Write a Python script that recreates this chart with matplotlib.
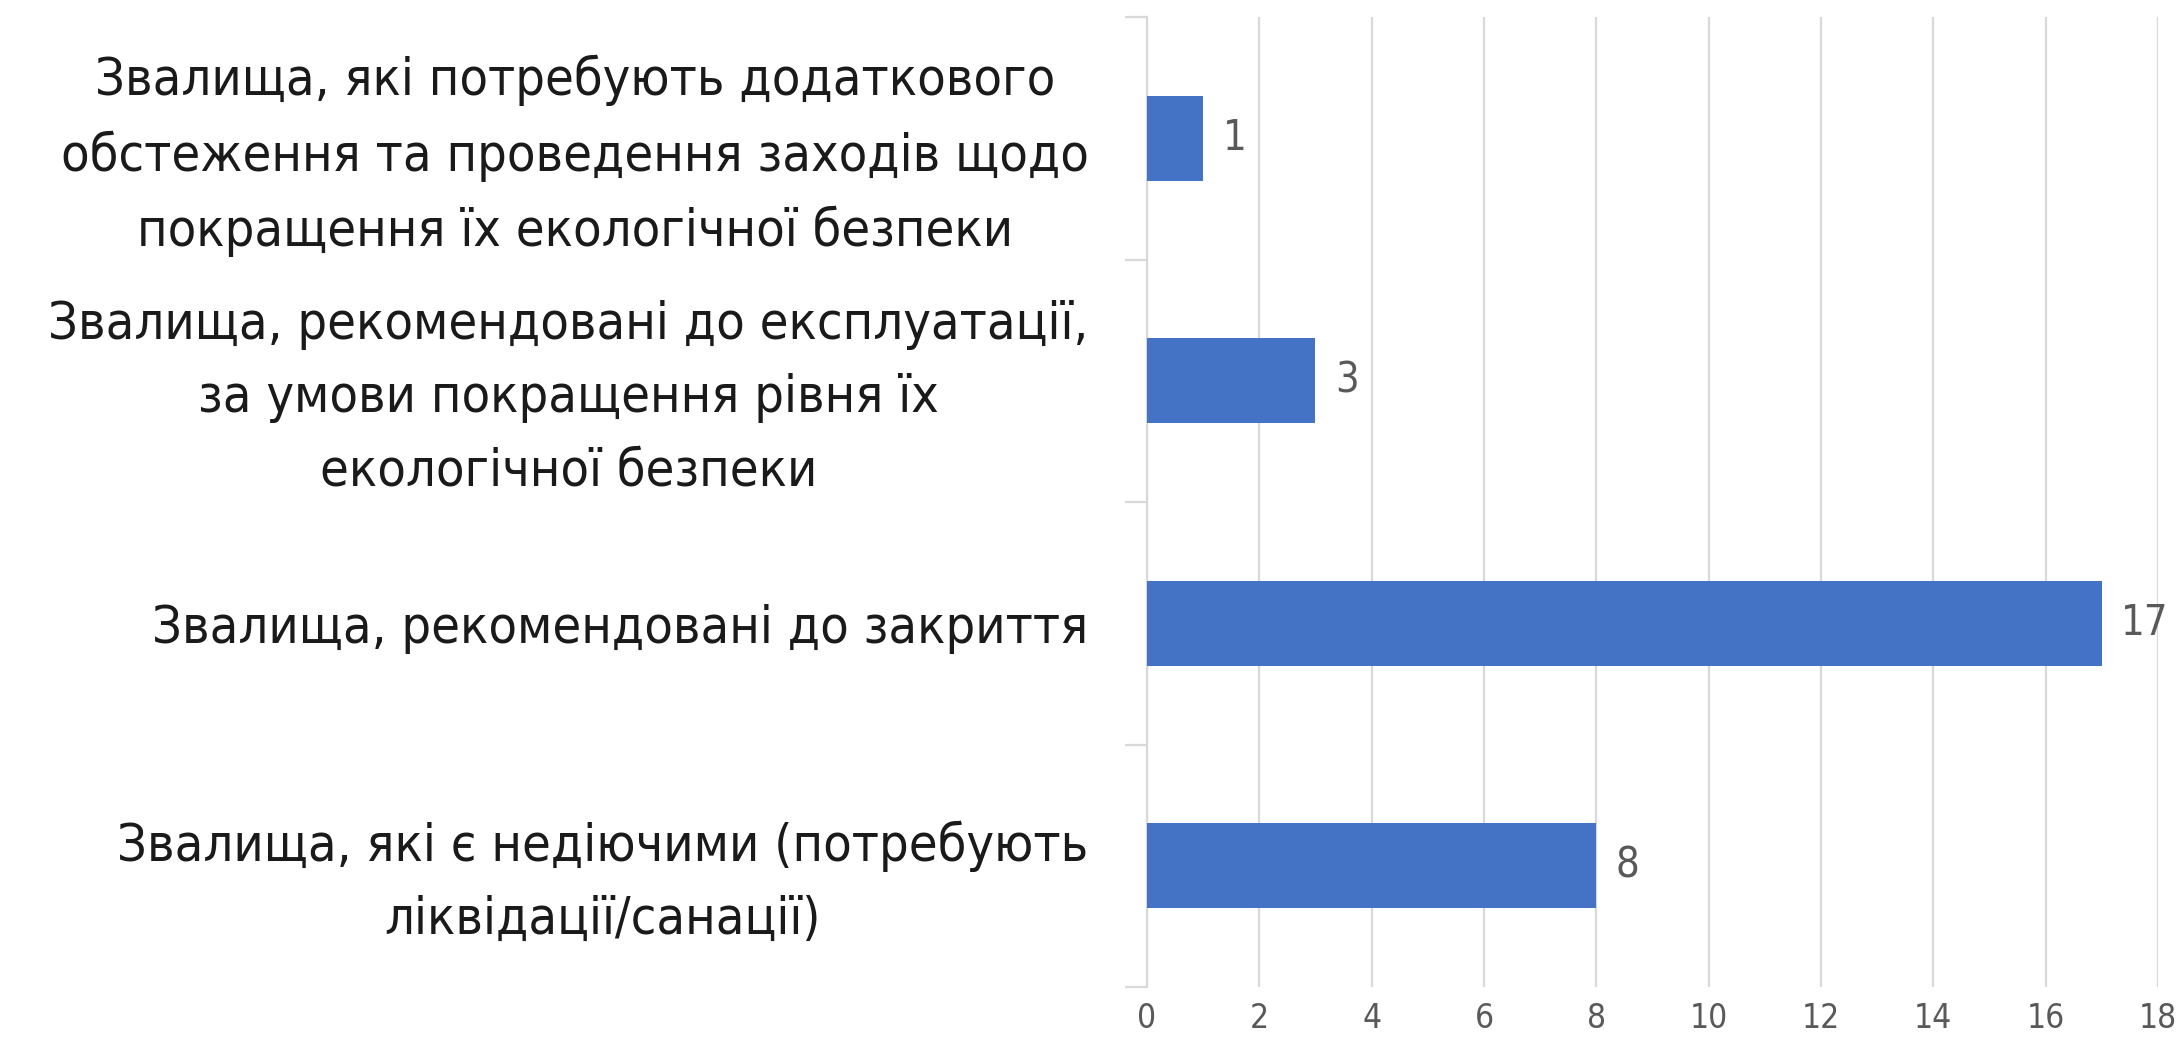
import matplotlib
matplotlib.use("Agg")
import matplotlib.pyplot as plt
from matplotlib.ticker import FixedLocator

categories = [
    "Звалища, які потребують додаткового\nобстеження та проведення заходів щодо\nпокращення їх екологічної безпеки",
    "Звалища, рекомендовані до експлуатації,\nза умови покращення рівня їх\nекологічної безпеки",
    "Звалища, рекомендовані до закриття",
    "Звалища, які є недіючими (потребують\nліквідації/санації)",
]
values = [1, 3, 17, 8]
x_ticks = [0, 2, 4, 6, 8, 10, 12, 14, 16, 18]

plt.rcParams['font.family'] = ['DejaVu Sans']
plt.rcParams['font.stretch'] = 'condensed'

fig = plt.figure(figsize=(21.78, 10.44), dpi=100)
ax = fig.add_axes([0.5266, 0.0546, 0.9908 - 0.5266, 0.9837 - 0.0546])

ypos = list(range(len(categories)))
ax.barh(ypos, values, height=0.35, color='#4472C4', zorder=3)
for y, v in zip(ypos, values):
    ax.annotate(str(v), xy=(v, y), xytext=(14, 0), textcoords='offset points',
                va='center', ha='left', fontsize=30, color='#595959')

ax.set_xlim(0, 18)
ax.set_ylim(3.5, -0.5)
ax.set_xticks(x_ticks)
ax.set_xticklabels([str(t) for t in x_ticks], fontsize=24, color='#595959')
ax.tick_params(axis='x', length=0, pad=11)
ax.grid(axis='x', color='#d9d9d9', linewidth=1.6, zorder=0)

ax.set_yticks(ypos)
ax.set_yticklabels(categories, fontsize=42, color='#1a1a1a',
                   multialignment='center', linespacing=1.6)
ax.tick_params(axis='y', which='major', length=0, pad=42)
ax.yaxis.set_minor_locator(FixedLocator([-0.5, 0.5, 1.5, 2.5, 3.5]))
ax.tick_params(axis='y', which='minor', length=16, width=1.6, color='#d9d9d9')

for s in ['top', 'right', 'bottom']:
    ax.spines[s].set_visible(False)
ax.spines['left'].set_color('#d9d9d9')
ax.spines['left'].set_linewidth(1.6)

# shrink category labels to fit the available width on the left
fig.canvas.draw()
r = fig.canvas.get_renderer()
maxw = max(t.get_window_extent(r).width for t in ax.get_yticklabels())
target = 1040
if maxw > target:
    fs = 42 * target / maxw
    for t in ax.get_yticklabels():
        t.set_fontsize(fs)

fig.savefig('out.png', dpi=100)
